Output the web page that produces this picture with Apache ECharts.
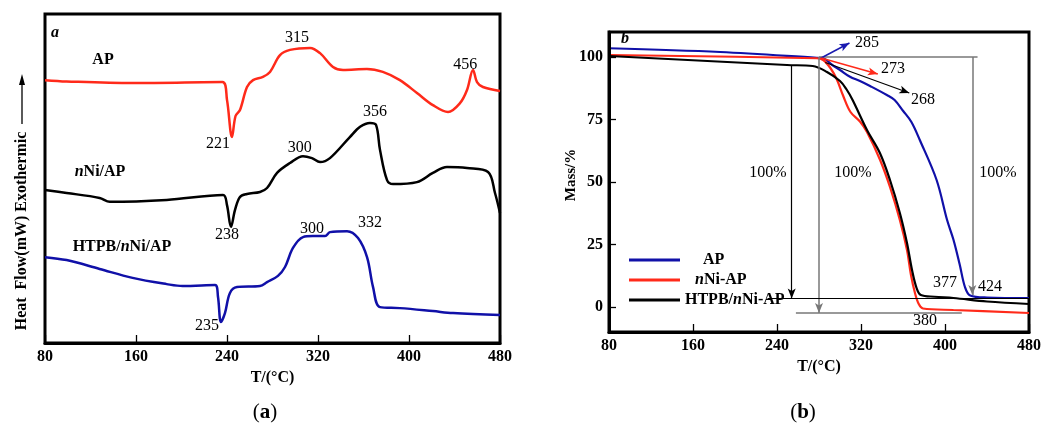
<!DOCTYPE html>
<html>
<head>
<meta charset="utf-8">
<script src="https://cdn.jsdelivr.net/npm/echarts@6/dist/echarts.min.js"></script>
<style>html,body{margin:0;padding:0;background:#fff;}#c{width:1050px;height:428px;}</style>
</head>
<body>
<div id="c"></div>
<script>
// ---------- Panel (a): DSC, T (°C) vs relative heat flow (arbitrary units) ----------
const xTicks = [80, 160, 240, 320, 400, 480];
const dscAP = [[80,7.99],[99,7.95],[157,7.90],[236,7.93],[240,7.39],[244.4,6.26],[247.5,6.9],[251.4,7.08],[257.6,7.78],[262.9,7.99],[271.6,8.09],[277.8,8.24],[286.6,8.75],[295.4,8.91],[313,8.97],[321.8,8.81],[333.2,8.39],[342,8.30],[363,8.33],[377,8.24],[392,7.99],[407,7.60],[421,7.23],[434.3,7.02],[444.8,7.29],[451,7.69],[456.3,8.30],[459.8,7.93],[465,7.78],[480,7.66]];
const dscNiAP = [[80,4.65],[99,4.56],[128,4.41],[137,4.29],[187,4.35],[236.5,4.50],[240,4.19],[243.5,3.53],[247,4.04],[251.4,4.44],[257.6,4.53],[269,4.59],[275.2,4.71],[284,5.17],[295.4,5.47],[306.8,5.68],[314.7,5.62],[321.8,5.50],[330.5,5.62],[348,6.26],[357,6.57],[365.7,6.69],[371,6.63],[374.5,5.87],[380.7,4.95],[386,4.83],[407,4.89],[421,5.17],[433.4,5.35],[451,5.32],[469.5,5.20],[475.6,4.56],[480,3.95]];
const dscHTPB = [[80,2.61],[99,2.52],[128,2.25],[157,1.98],[187,1.79],[201,1.73],[229.5,1.76],[232.1,1.40],[234.7,0.64],[238.2,0.91],[242.6,1.52],[248.8,1.70],[269,1.73],[275.2,1.85],[284.8,2.04],[291,2.31],[298,2.89],[306.8,3.22],[315.6,3.25],[326.2,3.25],[330.5,3.37],[345.5,3.40],[355.2,3.19],[363.1,2.61],[368.4,1.70],[374.5,1.09],[392,1.06],[421,0.97],[438.7,0.91],[480,0.85]];
const dscNotes = [[301.5,9.27,'315'],[232,6.05,'221'],[449.5,8.45,'456'],[304,5.93,'300'],[370,7.02,'356'],[240,3.28,'238'],[314.7,3.47,'300'],[365.7,3.65,'332'],[222.4,0.52,'235']];
const dscNames = [[131,8.60,'{b|AP}'],[128.4,5.20,'{bi|n}{b|Ni/AP}'],[147.7,2.92,'{b|HTPB/}{bi|n}{b|Ni/AP}'],[88.8,9.42,'{bi|a}']];

// ---------- Panel (b): TG, T (°C) vs Mass (%) ----------
const massTicks = [0, 25, 50, 75, 100];
const tgAP = [[80,103.5],[186,102],[278,99.7],[284,99.5],[292,97],[300,94.8],[309.5,92.1],[319,90.4],[328.6,88.4],[344.6,84.8],[352,82.8],[360,78.5],[368,74],[376,66.8],[392,50.8],[402,34.8],[408,27],[414,17],[419,8],[424,4.6],[440,3.8],[480,3.6]];
const tgNiAP = [[80,100.8],[278,99.5],[284,98.8],[291,95.5],[297,91],[303,84.5],[310,78],[319,74.2],[325.7,70],[338,59],[347.6,48],[357,34.8],[363.8,22.8],[367.5,13],[371.4,5.6],[375,1.2],[379,-0.6],[408,-1.2],[480,-2.4]];
const tgHTPB = [[80,100.4],[249.5,96.8],[274,96.4],[287.6,94],[300,90.4],[306,87.2],[312,82.8],[325.7,70.8],[338,61.6],[347.6,50.8],[357,37.6],[363.8,25.6],[368.5,15],[373,7.5],[377,4.8],[390,4.1],[408,3.6],[440,2.2],[480,1.2]];
const tgNotes = [[325.7,105.6,'285'],[350.5,95.2,'273'],[379,82.8,'268'],[231.4,53.6,'100%'],[312.4,53.6,'100%'],[450.5,53.6,'100%'],[400,9.6,'377'],[442.9,8,'424'],[381,-5.6,'380'],[95.2,107.2,'{bi|b}']];
// guide lines: [x1, y1, x2, y2, colour, arrow at end]
const tgGuides = [
  [280,100,431,100,'#777',false],
  [280,100,280,-2.4,'#777',true],
  [254,96.8,254,3.4,'#000',true],
  [426,100,426,4.8,'#777',true],
  [231,3.4,480,3.4,'#000',false],
  [258,-2.4,416,-2.4,'#777',false],
  [282,99.6,309,105.6,'#1a1ab0',true],
  [282,99.6,336,93.2,'#ff2a1a',true],
  [286,97.8,366,85.6,'#000',true]
];

const SERIF = 'Liberation Serif, DejaVu Serif, serif';
const RED = '#ff2a1a', BLUE = '#1010a8', BLACK = '#000';
const rich = {
  b: {fontFamily: SERIF, fontWeight: 'bold', fontSize: 16, color: '#000'},
  bi: {fontFamily: SERIF, fontWeight: 'bold', fontStyle: 'italic', fontSize: 16, color: '#000'}
};

function noteSeries(xi, notes) {
  return {
    type: 'scatter', xAxisIndex: xi, yAxisIndex: xi, data: notes, symbolSize: 0, silent: true,
    itemStyle: {opacity: 1},
    label: {show: true, position: 'inside', opacity: 1, formatter: p => p.data[2], fontFamily: SERIF, fontSize: 16, color: '#000', rich: rich},
    z: 5
  };
}
function lineSeries(name, xi, data, color, w) {
  return {name: name, type: 'line', xAxisIndex: xi, yAxisIndex: xi, data: data, showSymbol: false,
    smooth: 0.35, lineStyle: {color: color, width: w}, itemStyle: {color: color}, z: 3};
}
const xAxisCommon = {
  type: 'value', min: 80, max: 480, interval: 80, position: 'bottom',
  axisLine: {show: true, onZero: false, lineStyle: {color: '#000', width: 3}}, splitLine: {show: false},
  axisTick: {show: true, inside: true, length: 8, lineStyle: {color: '#000', width: 1.3}},
  axisLabel: {fontFamily: SERIF, fontWeight: 'bold', fontSize: 16, color: '#000', margin: 6},
  name: 'T/(°C)', nameLocation: 'middle',
  nameTextStyle: {fontFamily: SERIF, fontWeight: 'bold', fontSize: 16, color: '#000'},
  z: 10
};

const guideData = tgGuides.map(g => [
  {coord: [g[0], g[1]], symbol: 'none', lineStyle: {color: g[4], width: g[4] === '#000' ? 1.2 : 1.5, type: 'solid'}},
  {coord: [g[2], g[3]], symbol: g[5] ? 'arrow' : 'none', symbolSize: [6, 10]}
]);

const tgBlack = lineSeries('HTPB/nNi-AP', 1, tgHTPB, BLACK, 2.2);
tgBlack.markLine = {silent: true, symbol: ['none', 'none'], label: {show: false}, data: guideData, animation: false};

const option = {
  animation: false,
  backgroundColor: '#fff',
  title: [
    {text: '({b|a})', left: 260, top: 397, textAlign: 'center', textStyle: {fontFamily: SERIF, fontSize: 21, fontWeight: 'normal', color: '#000', rich: {b: {fontFamily: SERIF, fontSize: 21, fontWeight: 'bold', color: '#000'}}}},
    {text: '({b|b})', left: 798, top: 397, textAlign: 'center', textStyle: {fontFamily: SERIF, fontSize: 21, fontWeight: 'normal', color: '#000', rich: {b: {fontFamily: SERIF, fontSize: 21, fontWeight: 'bold', color: '#000'}}}}
  ],
  grid: [
    {left: 45, top: 14, width: 455, height: 329, show: true, borderColor: '#000', borderWidth: 3, containLabel: false},
    {left: 609, top: 32, width: 420, height: 300, show: true, borderColor: '#000', borderWidth: 3, containLabel: false}
  ],
  legend: {
    data: ['AP', 'nNi-AP', 'HTPB/nNi-AP'], orient: 'vertical', left: 624, top: 247,
    itemWidth: 51, itemHeight: 3, icon: 'rect', itemGap: 4,
    formatter: n => n === 'AP' ? '{p1|}{b|AP}' : (n === 'nNi-AP' ? '{p2|}{bi|n}{b|Ni-AP}' : '{b|HTPB/}{bi|n}{b|Ni-AP}'),
    textStyle: {fontFamily: SERIF, fontSize: 16, rich: Object.assign({p1: {width: 18}, p2: {width: 10}}, rich)}
  },
  xAxis: [
    Object.assign({}, xAxisCommon, {gridIndex: 0, nameGap: 27}),
    Object.assign({}, xAxisCommon, {gridIndex: 1, nameGap: 26})
  ],
  yAxis: [
    {type: 'value', gridIndex: 0, min: 0, max: 10, axisLine: {show: false}, axisTick: {show: false}, axisLabel: {show: false}, splitLine: {show: false}},
    {type: 'value', gridIndex: 1, min: -10, max: 110, position: 'left', z: 10,
      axisLine: {show: true, onZero: false, lineStyle: {color: '#000', width: 3}}, splitLine: {show: false},
      axisTick: {show: true, inside: true, length: 7, customValues: massTicks, lineStyle: {color: '#000', width: 1.3}},
      axisLabel: {customValues: massTicks, fontFamily: SERIF, fontWeight: 'bold', fontSize: 16, color: '#000', margin: 6}}
  ],
  graphic: [
    {type: 'text', x: 22, y: 231, rotation: Math.PI / 2, style: {text: 'Heat  Flow(mW) Exothermic', font: 'bold 16px ' + SERIF, fill: '#000', align: 'center', verticalAlign: 'middle'}},
    {type: 'line', shape: {x1: 22, y1: 124, x2: 22, y2: 82}, style: {stroke: '#000', lineWidth: 1.3}},
    {type: 'polygon', shape: {points: [[22, 74], [19, 85], [25, 85]]}, style: {fill: '#000'}},
    {type: 'text', x: 571, y: 175, rotation: Math.PI / 2, style: {text: 'Mass/%', font: 'bold 15px ' + SERIF, fill: '#000', align: 'center', verticalAlign: 'middle'}}
  ],
  series: [
    lineSeries('DSC AP', 0, dscAP, RED, 2.5),
    lineSeries('DSC nNi/AP', 0, dscNiAP, BLACK, 2.5),
    lineSeries('DSC HTPB/nNi/AP', 0, dscHTPB, BLUE, 2.5),
    noteSeries(0, dscNotes),
    noteSeries(0, dscNames),
    lineSeries('AP', 1, tgAP, BLUE, 2.2),
    lineSeries('nNi-AP', 1, tgNiAP, RED, 2.2),
    tgBlack,
    noteSeries(1, tgNotes)
  ]
};
echarts.init(document.getElementById('c'), null, {renderer: 'canvas'}).setOption(option);
</script>
</body>
</html>
